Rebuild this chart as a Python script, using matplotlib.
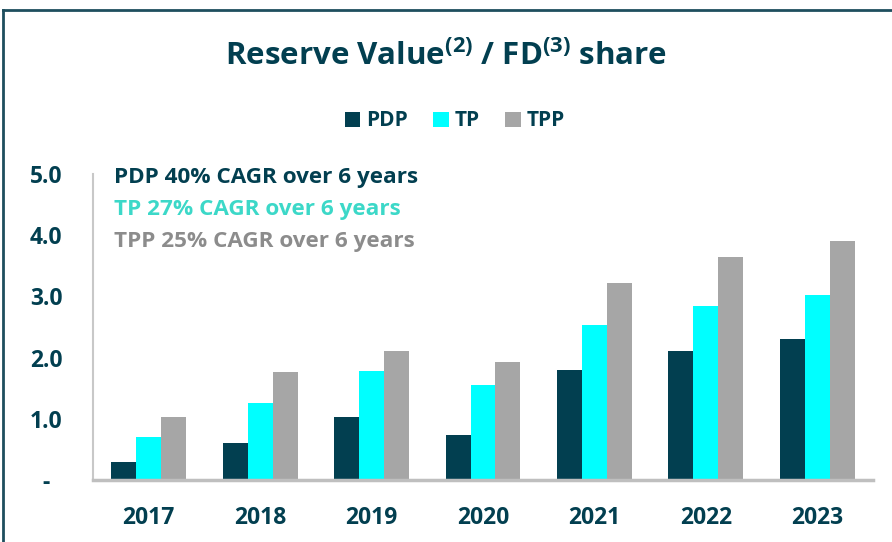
import matplotlib
matplotlib.use('Agg')
import matplotlib.pyplot as plt
import numpy as np
from matplotlib.lines import Line2D

plt.rcParams['font.family'] = ['Open Sans', 'DejaVu Sans']
plt.rcParams['mathtext.fontset'] = 'custom'
plt.rcParams['mathtext.rm'] = 'Open Sans'
plt.rcParams['mathtext.bf'] = 'Open Sans:bold'

years = ['2017', '2018', '2019', '2020', '2021', '2022', '2023']
pdp = [0.30, 0.60, 1.03, 0.73, 1.79, 2.10, 2.31]
tp = [0.71, 1.26, 1.78, 1.55, 2.53, 2.85, 3.03]
tpp = [1.03, 1.77, 2.10, 1.93, 3.22, 3.65, 3.90]
notes = ['PDP 40% CAGR over 6 years', 'TP 27% CAGR over 6 years', 'TPP 25% CAGR over 6 years']

dark = '#023F50'
cyan = '#00FFFF'
grey = '#A6A6A6'
note_colors = [dark, '#3CD8C8', '#8C8C8C']

fig = plt.figure(figsize=(8.92, 5.42), dpi=100)
ax = fig.add_axes([93 / 892, 62 / 542, 780 / 892, 306 / 542])

x = np.arange(len(years))
w = 0.224
ax.bar(x - w, pdp, width=w, color=dark, label='PDP')
ax.bar(x, tp, width=w, color=cyan, label='TP')
ax.bar(x + w, tpp, width=w, color=grey, label='TPP')

ax.set_xlim(-0.5, 6.5)
ax.set_ylim(0, 5)
ax.set_yticks([0, 1, 2, 3, 4, 5])
ax.set_yticklabels(['-  ', '1.0', '2.0', '3.0', '4.0', '5.0'])
ax.set_xticks(x)
ax.set_xticklabels(years)
ax.tick_params(axis='both', length=0, labelsize=16.5, labelcolor=dark)
ax.tick_params(axis='y', pad=22)
ax.tick_params(axis='x', pad=19)
for lab in ax.get_xticklabels() + ax.get_yticklabels():
    lab.set_fontweight('bold')
for s in ['top', 'right']:
    ax.spines[s].set_visible(False)
ax.spines['left'].set_color('#C8C8C8')
ax.spines['left'].set_linewidth(1.5)
ax.spines['bottom'].set_color('#BFBFBF')
ax.spines['bottom'].set_linewidth(2.5)

for i, (t, c) in enumerate(zip(notes, note_colors)):
    fig.text(114 / 892, 1 - (177 + i * 32) / 542, t,
             color=c, fontsize=16.2, fontweight='bold', va='center', ha='left')

fig.text(0.5, 1 - 56 / 542, r'Reserve Value$^{\mathbf{(2)}}$ / FD$^{\mathbf{(3)}}$ share',
         ha='center', va='center', fontsize=22.5, fontweight='bold', color=dark)

fig.legend(loc='center', bbox_to_anchor=(0.51, 1 - 121 / 542), ncol=3, frameon=False,
           handlelength=0.75, handleheight=0.75, handletextpad=0.3, columnspacing=1.2,
           prop={'weight': 'bold', 'size': 15}, labelcolor=dark)

fig.add_artist(Line2D([3 / 892, 3 / 892], [0, 1 - 10 / 542], transform=fig.transFigure,
                      color='#1E4E5E', linewidth=2))
fig.add_artist(Line2D([3 / 892, 1], [1 - 10 / 542, 1 - 10 / 542], transform=fig.transFigure,
                      color='#1E4E5E', linewidth=2))

fig.savefig('out.png', dpi=100, facecolor='white')
